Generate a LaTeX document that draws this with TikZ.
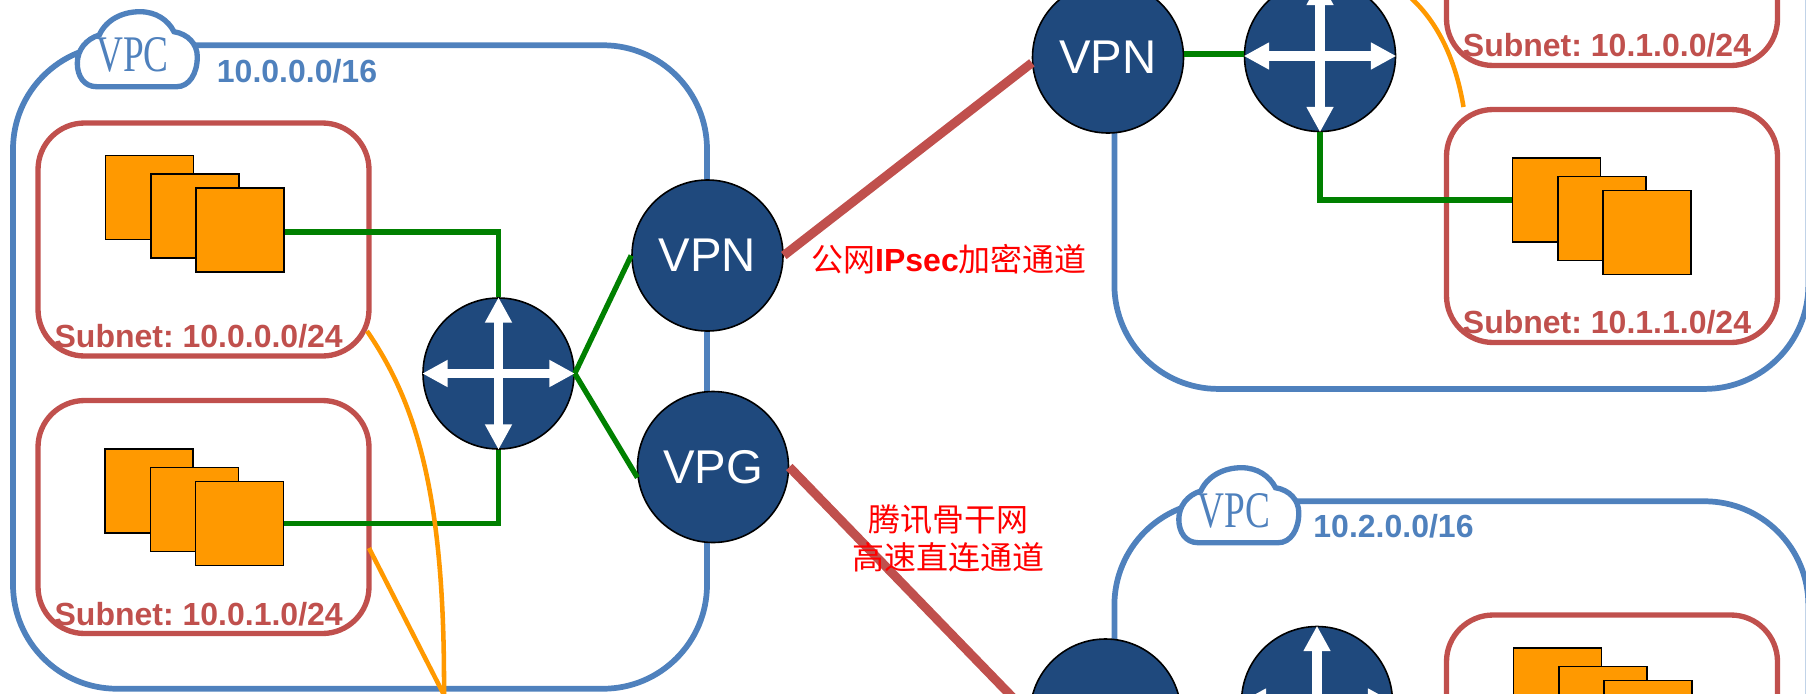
\documentclass[tikz,border=0pt]{standalone}
\usepackage{fontspec}
\setmainfont{Liberation Sans}
\newfontfamily\cjk{Noto Sans CJK SC}
\newfontfamily\vpcfont{Liberation Serif}
\usetikzlibrary{arrows.meta}
\definecolor{vpcblue}{HTML}{4F81BD}
\definecolor{subnetred}{HTML}{C0504D}
\definecolor{serverorange}{HTML}{FF9900}
\definecolor{routernavy}{HTML}{1F497D}
\definecolor{linkgreen}{HTML}{008000}
\frenchspacing

\begin{document}
\begin{tikzpicture}[
  x=0.75pt,
  y=-0.75pt,
  vpcbox/.style={draw=vpcblue, line width=4.3pt, rounded corners=78pt, minimum width=520.5pt, minimum height=482.6pt},
  subnetbox/.style={draw=subnetred, line width=4pt, rounded corners=35pt, minimum width=248.25pt, minimum height=174.75pt},
  serverbox/.style={draw=black, fill=serverorange, line width=1.3pt, minimum width=66pt, minimum height=63pt},
  hubnode/.style={circle, draw=black, fill=routernavy, line width=1.2pt, minimum size=113.25pt, inner sep=0pt},
  gatenode/.style={hubnode, text=white, font=\fontsize{35.5}{40}\selectfont},
  vpclabel/.style={text=vpcblue, inner sep=0pt, font=\fontsize{24}{28}\selectfont\bfseries},
  subnetlabel/.style={text=subnetred, inner sep=0pt, font=\fontsize{24}{28}\selectfont\bfseries},
  tunnellabel/.style={text=red, inner sep=0pt, align=center, font=\fontsize{24}{28.5}\selectfont},
  greenlink/.style={draw=linkgreen, line width=4pt},
  tunnellink/.style={draw=subnetred, line width=6.8pt},
  peerlink/.style={draw=serverorange, line width=3.4pt},
  hubarrow/.style={draw=white, line width=7pt, {Triangle[length=19pt, width=19pt]}-{Triangle[length=19pt, width=19pt]}},
  serverstack/.pic={
    \node[serverbox] (a) at (0,0) {};
    \node[serverbox] (b) at (45.5,18.5) {};
    \node[serverbox] (c) at (90.5,32.5) {};
  },
  vpccloud/.pic={
    \draw[vpcblue, fill=white, line width=4pt] (20.7,76.7)
      .. controls (8,76.7) and (1.3,66) .. (1.3,53.3)
      .. controls (1.3,40) and (10,29) .. (23.3,25)
      .. controls (30,10) and (46,1.7) .. (64,1.7)
      .. controls (80,1.7) and (92,10) .. (98,21.7)
      .. controls (112,24) and (121.3,34) .. (121.3,46.7)
      .. controls (121.3,64) and (113,76.7) .. (100.7,76.7) -- cycle;
    \node[text=vpcblue, inner sep=0pt, font=\fontsize{38.5}{40}\selectfont\vpcfont] (name) at (56.5,44.7) {\scalebox{0.726}[1]{VPC}};
  }
]
  \useasboundingbox (0,0) rectangle (1806,693);
  \clip (0,0) rectangle (1806,693);

  \node[vpcbox] (vpcA) at (360,367) {};
  \node[vpcbox] (vpcB) at (1461.4,67.2) {};
  \node[vpcbox] (vpcC) at (1461.4,823) {};

  \node[subnetbox] (subA) at (203.5,239.5) {};
  \node[subnetbox] (subB) at (203.5,517) {};
  \node[subnetbox] (subC) at (1612,-51) {};
  \node[subnetbox] (subD) at (1612,226) {};
  \node[subnetbox] (subE) at (1612,731.5) {};

  \pic (stackA) at (149.5,197.5) {serverstack};
  \pic (stackB) at (149,491) {serverstack};
  \pic (stackD) at (1556.5,200) {serverstack};
  \pic (stackE) at (1557.5,690) {serverstack};

  \pic (cloudA) at (76,10) {vpccloud};
  \pic (cloudB) at (1177.5,466) {vpccloud};
  \node[vpclabel] (cidrA) at (297,71) {10.0.0.0/16};
  \node[vpclabel] (cidrB) at (1393.5,526.5) {10.2.0.0/16};

  \node[hubnode] (hubA) at (498.5,373.5) {};
  \node[hubnode] (hubB) at (1320,56) {};
  \node[hubnode] (hubC) at (1317,702) {};
  \node[gatenode] (vpnA) at (707.5,255.5) {VPN};
  \node[gatenode] (vpgA) at (713,467) {VPG};
  \node[gatenode] (vpnB) at (1108,57.5) {VPN};
  \node[gatenode] (vpnC) at (1105.5,714.5) {};

  \draw[greenlink] ([yshift=-1.5pt]stackAc.east) -| (hubA.north);
  \draw[greenlink] (stackBc.east) -| (hubA.south);
  \draw[greenlink] (hubA.east) -- (vpnA.west);
  \draw[greenlink] (hubA.east) -- (vpgA.188);
  \draw[greenlink] ([yshift=1.5pt]vpnB.east |- hubB.west) -- ([yshift=1.5pt]hubB.west);
  \draw[greenlink] (hubB.south) |- (stackDa.west);

  \draw[tunnellink] (vpnA.east) -- (vpnB.184);
  \draw[tunnellink] (vpgA.east) -- (vpnC.west);

  \coordinate (peerA) at (367,331);
  \coordinate (peerB) at (369,548);
  \coordinate (peerC) at (1463.5,107);
  \coordinate (peerD) at (1411,-2);
  \coordinate (peerEnd) at (444,695);
  \draw[peerlink] (peerA) .. controls (418,405) and (445,500) .. (peerEnd);
  \draw[peerlink] (peerB) -- (peerEnd);
  \draw[peerlink] (peerC) .. controls (1455,55) and (1435,20) .. (peerD);

  \draw[hubarrow] (hubA.north) -- (hubA.south);
  \draw[hubarrow] (hubA.west) -- (hubA.east);
  \draw[hubarrow] (hubB.north) -- (hubB.south);
  \draw[hubarrow] (hubB.west) -- (hubB.east);
  \draw[hubarrow] (hubC.north) -- (hubC.south);
  \draw[hubarrow] (hubC.west) -- (hubC.east);

  \node[subnetlabel] (labelA) at (198.7,336) {Subnet: 10.0.0.0/24};
  \node[subnetlabel] (labelB) at (198.7,614) {Subnet: 10.0.1.0/24};
  \node[subnetlabel] (labelC) at (1607,45) {Subnet: 10.1.0.0/24};
  \node[subnetlabel] (labelD) at (1607,322.6) {Subnet: 10.1.1.0/24};

  \node[tunnellabel] (tunnelA) at (949,259) {{\cjk 公网}\textbf{IPsec}{\cjk 加密通道}};
  \node[tunnellabel] (tunnelB) at (948,538) {{\cjk 腾讯骨干网}\\{\cjk 高速直连通道}};
\end{tikzpicture}
\end{document}
